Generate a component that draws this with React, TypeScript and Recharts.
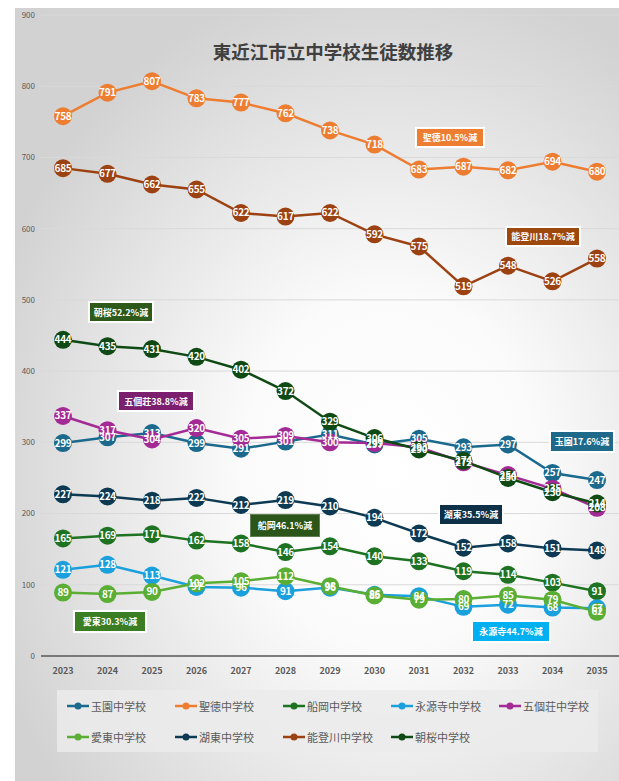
import { CartesianGrid, LabelList, Line, LineChart, XAxis, YAxis } from "recharts";

const years = ["2023", "2024", "2025", "2026", "2027", "2028", "2029", "2030", "2031", "2032", "2033", "2034", "2035"];

const tamazono = [299, 307, 313, 299, 291, 301, 311, 297, 305, 293, 297, 257, 247];
const shotoku = [758, 791, 807, 783, 777, 762, 738, 718, 683, 687, 682, 694, 680];
const funaoka = [165, 169, 171, 162, 158, 146, 154, 140, 133, 119, 114, 103, 91];
const eigenji = [121, 128, 113, 97, 96, 91, 96, 86, 84, 69, 72, 68, 67];
const gokasho = [337, 317, 304, 320, 305, 309, 300, 299, 293, 272, 254, 235, 208];
const aito = [89, 87, 90, 102, 105, 112, 98, 85, 79, 80, 85, 79, 62];
const koto = [227, 224, 218, 222, 212, 219, 210, 194, 172, 152, 158, 151, 148];
const notogawa = [685, 677, 662, 655, 622, 617, 622, 592, 575, 519, 548, 526, 558];
const asakura = [444, 435, 431, 420, 402, 372, 329, 306, 290, 274, 250, 230, 214];

const yTicks = [0, 100, 200, 300, 400, 500, 600, 700, 800, 900];

const SERIES = [
  { key: "tamazono", name: "玉園中学校", color: "#1B6A8E", values: tamazono },
  { key: "shotoku", name: "聖徳中学校", color: "#ED7D31", values: shotoku },
  { key: "funaoka", name: "船岡中学校", color: "#1E7322", values: funaoka },
  { key: "eigenji", name: "永源寺中学校", color: "#1AA0DC", values: eigenji },
  { key: "gokasho", name: "五個荘中学校", color: "#A42A95", values: gokasho },
  { key: "aito", name: "愛東中学校", color: "#5BAE34", values: aito },
  { key: "koto", name: "湖東中学校", color: "#0D3A52", values: koto },
  { key: "notogawa", name: "能登川中学校", color: "#9C4212", values: notogawa },
  { key: "asakura", name: "朝桜中学校", color: "#0F4A14", values: asakura },
];

const data = years.map((year, i) => {
  const row: Record<string, string | number> = { year };
  SERIES.forEach((s) => {
    row[s.key] = s.values[i];
  });
  return row;
});

// notes: page-space boxes
const NOTES = [
  { text: "聖徳10.5%減", bg: "#ED7D31", left: 415, top: 127, w: 70, h: 21, border: true },
  { text: "能登川18.7%減", bg: "#9E480E", left: 505, top: 226, w: 76, h: 21, border: true },
  { text: "朝桜52.2%減", bg: "#2D5A1B", left: 88, top: 301, w: 66, h: 22, border: true },
  { text: "五個荘38.8%減", bg: "#7B1F6E", left: 117, top: 390, w: 78, h: 22, border: true },
  { text: "玉園17.6%減", bg: "#1F6A8A", left: 549, top: 430, w: 66, h: 23, border: true },
  { text: "湖東35.5%減", bg: "#0E3147", left: 438, top: 503, w: 66, h: 23, border: true },
  { text: "船岡46.1%減", bg: "#2B5519", left: 250, top: 514, w: 70, h: 23, border: false },
  { text: "愛東30.3%減", bg: "#3B7D23", left: 73, top: 610, w: 74, h: 23, border: true },
  { text: "永源寺44.7%減", bg: "#00B0F0", left: 471, top: 620, w: 80, h: 23, border: true },
];

const FONT = '"Noto Sans CJK JP", "Noto Sans", sans-serif';
const OFF_X = 15;
const OFF_Y = 8;

function DotLabel(props: any) {
  const { x, y, value } = props;
  return (
    <text
      x={x}
      y={y}
      dy={3.5}
      textAnchor="middle"
      fill="#fff"
      fontSize={10}
      fontWeight="bold"
      fontFamily={FONT}
      letterSpacing={-0.3}
    >
      {value}
    </text>
  );
}

function LegendBox() {
  return (
    <div
      style={{
        position: "absolute",
        left: 57 - OFF_X,
        top: 690 - OFF_Y,
        width: 541,
        height: 62,
        background: "rgba(235,235,235,0.85)",
        fontFamily: FONT,
        fontSize: 11,
        color: "#595959",
      }}
    >
      {SERIES.map((s, i) => (
        <div
          key={s.key}
          style={{
            position: "absolute",
            left: 10 + (i % 5) * 108,
            top: i < 5 ? 8 : 39,
            display: "flex",
            alignItems: "center",
            whiteSpace: "nowrap",
          }}
        >
          <svg width={22} height={10} style={{ marginRight: 2 }}>
            <line x1={0} y1={5} x2={22} y2={5} stroke={s.color} strokeWidth={2.5} />
            <circle cx={11} cy={5} r={3.5} fill={s.color} />
          </svg>
          {s.name}
        </div>
      ))}
    </div>
  );
}

export default function App() {
  return (
    <div
      style={{
        position: "absolute",
        left: OFF_X,
        top: OFF_Y,
        width: 604,
        height: 773,
        overflow: "hidden",
        background:
          "radial-gradient(ellipse 70% 65% at 62% 60%, #ffffff 0%, #fbfbfb 35%, #d2d2d2 100%)",
      }}
    >
      <div
        style={{
          position: "absolute",
          left: 0,
          width: 636,
          top: 38 - OFF_Y,
          textAlign: "center",
          fontFamily: FONT,
          fontWeight: "bold",
          fontSize: 18.5,
          color: "#404040",
        }}
      >
        東近江市立中学校生徒数推移
      </div>
      <LineChart
        width={604}
        height={680}
        data={data}
        margin={{ top: 7, right: 0, left: 0, bottom: 7 }}
      >
        <CartesianGrid stroke="#d9d9d9" vertical={false} />
        <XAxis
          dataKey="year"
          axisLine={{ stroke: "#595959", strokeWidth: 1.5 }}
          tickLine={false}
          height={25}
          padding={{ left: 22, right: 22 }}
          tick={{ fill: "#595959", fontSize: 9, fontWeight: "bold", fontFamily: FONT }}
          tickMargin={6}
        />
        <YAxis
          domain={[0, 900]}
          ticks={yTicks}
          width={26}
          axisLine={false}
          tickLine={false}
          tickSize={0}
          tickMargin={6}
          tick={{ fill: "#595959", fontSize: 8, fontFamily: FONT }}
        />
        {SERIES.map((s) => (
          <Line
            key={s.key}
            dataKey={s.key}
            name={s.name}
            stroke={s.color}
            strokeWidth={2.5}
            dot={{ r: 9, fill: s.color, stroke: s.color, strokeWidth: 0 }}
            activeDot={false}
            isAnimationActive={false}
          >
            <LabelList dataKey={s.key} content={DotLabel} />
          </Line>
        ))}
      </LineChart>
      {NOTES.map((n) => (
        <div
          key={n.text}
          style={{
            position: "absolute",
            left: n.left - OFF_X,
            top: n.top - OFF_Y,
            width: n.w,
            height: n.h,
            boxSizing: "border-box",
            background: n.bg,
            border: n.border ? "2px solid #fff" : "1px solid rgba(255,255,255,0.25)",
            color: "#fff",
            fontFamily: FONT,
            fontSize: 9,
            fontWeight: "bold",
            display: "flex",
            alignItems: "center",
            justifyContent: "center",
            whiteSpace: "nowrap",
          }}
        >
          {n.text}
        </div>
      ))}
      <LegendBox />
    </div>
  );
}
